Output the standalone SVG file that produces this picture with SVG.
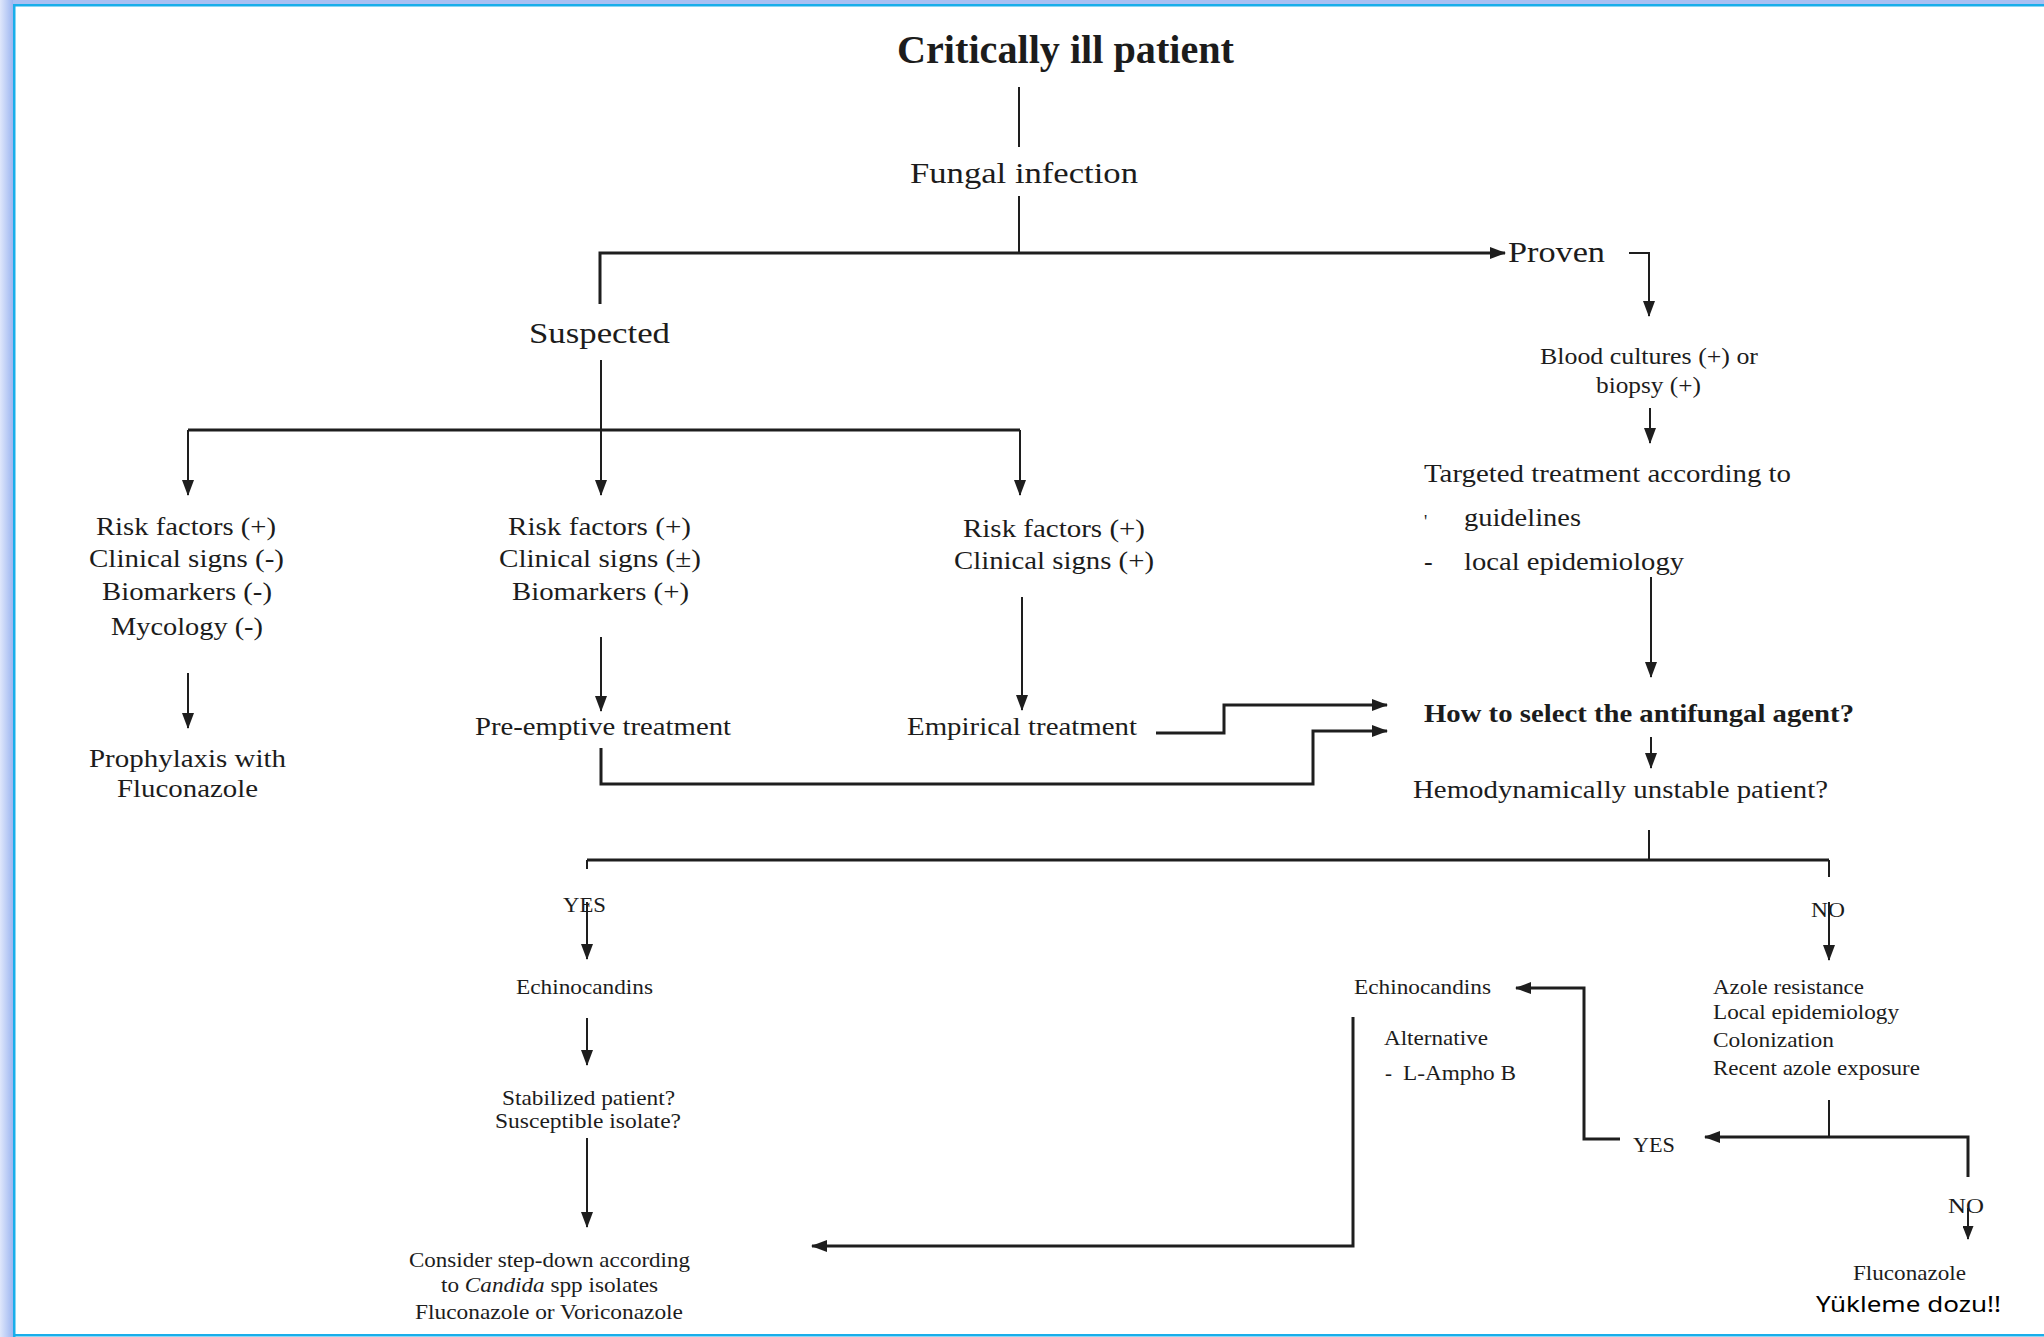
<svg xmlns="http://www.w3.org/2000/svg" width="2044" height="1337" viewBox="0 0 2044 1337">
  <defs>
    <linearGradient id="sideBand" x1="0" y1="0" x2="1" y2="0">
      <stop offset="0" stop-color="#dfe7fb"/>
      <stop offset="1" stop-color="#9db6f1"/>
    </linearGradient>
    <marker id="ah" viewBox="0 0 16 12" refX="15" refY="6" markerWidth="16" markerHeight="12" markerUnits="userSpaceOnUse" orient="auto">
      <path d="M0,0 L16,6 L0,12 z" fill="#1e1e1e"/>
    </marker>
    <marker id="ahs" viewBox="0 0 14 11" refX="13" refY="5.5" markerWidth="14" markerHeight="11" markerUnits="userSpaceOnUse" orient="auto">
      <path d="M0,0 L14,5.5 L0,11 z" fill="#1e1e1e"/>
    </marker>
    <style>
      .t { font-family: "Liberation Serif", "Times New Roman", serif; fill: #1c1c1c; }
      .b { font-weight: bold; }
      .f30 { font-size: 30px; }
      .f26 { font-size: 26px; }
      .f24 { font-size: 24px; }
      .f21 { font-size: 21px; }
      .ln { fill: none; stroke: #1e1e1e; stroke-width: 2; }
      .thk { stroke-width: 3; }
      .arr { marker-end: url(#ah); }
      .arrs { marker-end: url(#ahs); }
      .note { font-family: "Noto Sans", "Open Sans", "Liberation Sans", sans-serif; font-size: 22px; fill: #000; }
    </style>
  </defs>

  <!-- page background and frame -->
  <rect x="0" y="0" width="2044" height="1337" fill="#ffffff"/>
  <rect x="0" y="0" width="2044" height="5" fill="#a9c0f3"/>
  <rect x="0" y="0" width="13" height="1337" fill="url(#sideBand)"/>
  <rect x="13" y="4" width="2031" height="2.5" fill="#19aeea"/>
  <rect x="13" y="4" width="2.5" height="1333" fill="#19aeea"/>
  <rect x="13" y="1334" width="2031" height="2.5" fill="#19aeea"/>

  <!-- connectors -->
  <g id="connectors">
    <path class="ln" d="M1019,87 V147"/>
    <path class="ln" d="M1019,196 V253"/>
    <path class="ln thk arr" d="M600,304 V253 H1505"/>
    <path class="ln" d="M601,360 V430"/>
    <path class="ln thk" d="M188,430 H1020"/>
    <path class="ln arr" d="M188,430 V495"/>
    <path class="ln arr" d="M601,430 V495"/>
    <path class="ln arr" d="M1020,430 V495"/>
    <path class="ln arr" d="M1629,253 H1649 V316"/>
    <path class="ln arr" d="M1650,408 V443"/>
    <path class="ln arr" d="M188,673 V728"/>
    <path class="ln arr" d="M601,637 V711"/>
    <path class="ln arr" d="M1022,597 V710"/>
    <path class="ln thk arr" d="M1156,733 H1224 V705 H1387"/>
    <path class="ln thk arr" d="M601,748 V784 H1313 V731 H1387"/>
    <path class="ln arr" d="M1651,577 V677"/>
    <path class="ln arr" d="M1651,737 V768"/>
    <path class="ln" d="M1649,830 V860"/>
    <path class="ln thk" d="M587,860 H1829"/>
    <path class="ln" d="M587,860 V869"/>
    <path class="ln" d="M1829,860 V877"/>
    <path class="ln arr" d="M587,902 V959"/>
    <path class="ln arr" d="M1829,902 V960"/>
    <path class="ln arr" d="M587,1018 V1065"/>
    <path class="ln arr" d="M587,1138 V1227"/>
    <path class="ln thk arr" d="M1353,1017 V1246 H812"/>
    <path class="ln" d="M1829,1100 V1137"/>
    <path class="ln thk arr" d="M1968,1177 V1137 H1705"/>
    <path class="ln thk arr" d="M1620,1139 H1584 V988 H1516"/>
    <path class="ln arrs" d="M1968,1208 V1239"/>
  </g>

  <g id="critically-ill">
    <text class="t b" x="897" y="63" font-size="40" textLength="337" lengthAdjust="spacingAndGlyphs">Critically ill patient</text>
  </g>
  <g id="fungal-infection">
    <text class="t f30" x="910" y="183" textLength="228" lengthAdjust="spacingAndGlyphs">Fungal infection</text>
  </g>
  <g id="proven">
    <text class="t f30" x="1508" y="262" textLength="97" lengthAdjust="spacingAndGlyphs">Proven</text>
  </g>
  <g id="suspected">
    <text class="t f30" x="529" y="343" textLength="141" lengthAdjust="spacingAndGlyphs">Suspected</text>
  </g>

  <g id="prophylaxis-criteria">
    <text class="t f26" x="96" y="535" textLength="180" lengthAdjust="spacingAndGlyphs">Risk factors (+)</text>
    <text class="t f26" x="89" y="567" textLength="195" lengthAdjust="spacingAndGlyphs">Clinical signs (-)</text>
    <text class="t f26" x="102" y="600" textLength="170" lengthAdjust="spacingAndGlyphs">Biomarkers (-)</text>
    <text class="t f26" x="111" y="635" textLength="152" lengthAdjust="spacingAndGlyphs">Mycology (-)</text>
  </g>
  <g id="prophylaxis">
    <text class="t f26" x="89" y="767" textLength="197" lengthAdjust="spacingAndGlyphs">Prophylaxis with</text>
    <text class="t f26" x="117" y="797" textLength="141" lengthAdjust="spacingAndGlyphs">Fluconazole</text>
  </g>

  <g id="preemptive-criteria">
    <text class="t f26" x="508" y="535" textLength="183" lengthAdjust="spacingAndGlyphs">Risk factors (+)</text>
    <text class="t f26" x="499" y="567" textLength="202" lengthAdjust="spacingAndGlyphs">Clinical signs (±)</text>
    <text class="t f26" x="512" y="600" textLength="177" lengthAdjust="spacingAndGlyphs">Biomarkers (+)</text>
  </g>
  <g id="preemptive">
    <text class="t f26" x="475" y="735" textLength="256" lengthAdjust="spacingAndGlyphs">Pre-emptive treatment</text>
  </g>

  <g id="empirical-criteria">
    <text class="t f26" x="963" y="537" textLength="182" lengthAdjust="spacingAndGlyphs">Risk factors (+)</text>
    <text class="t f26" x="954" y="569" textLength="200" lengthAdjust="spacingAndGlyphs">Clinical signs (+)</text>
  </g>
  <g id="empirical">
    <text class="t f26" x="907" y="735" textLength="230" lengthAdjust="spacingAndGlyphs">Empirical treatment</text>
  </g>

  <g id="blood-cultures">
    <text class="t f24" x="1540" y="364" textLength="218" lengthAdjust="spacingAndGlyphs">Blood cultures (+) or</text>
    <text class="t f24" x="1596" y="393" textLength="105" lengthAdjust="spacingAndGlyphs">biopsy (+)</text>
  </g>
  <g id="targeted">
    <text class="t f26" x="1424" y="482" textLength="367" lengthAdjust="spacingAndGlyphs">Targeted treatment according to</text>
    <text class="t" x="1424" y="528" font-size="18">'</text>
    <text class="t f26" x="1464" y="526" textLength="117" lengthAdjust="spacingAndGlyphs">guidelines</text>
    <text class="t f26" x="1424" y="570">-</text>
    <text class="t f26" x="1464" y="570" textLength="220" lengthAdjust="spacingAndGlyphs">local epidemiology</text>
  </g>
  <g id="select-agent">
    <text class="t f26 b" x="1424" y="722" textLength="430" lengthAdjust="spacingAndGlyphs">How to select the antifungal agent?</text>
  </g>
  <g id="hemodynamics">
    <text class="t f26" x="1413" y="798" textLength="415" lengthAdjust="spacingAndGlyphs">Hemodynamically unstable patient?</text>
  </g>

  <g id="yes-unstable">
    <text class="t f21" x="563" y="912" textLength="43" lengthAdjust="spacingAndGlyphs">YES</text>
  </g>
  <g id="echinocandins-first">
    <text class="t f21" x="516" y="994" textLength="137" lengthAdjust="spacingAndGlyphs">Echinocandins</text>
  </g>
  <g id="stabilized">
    <text class="t f21" x="502" y="1105" textLength="173" lengthAdjust="spacingAndGlyphs">Stabilized patient?</text>
    <text class="t f21" x="495" y="1128" textLength="186" lengthAdjust="spacingAndGlyphs">Susceptible isolate?</text>
  </g>
  <g id="step-down">
    <text class="t f21" x="409" y="1267" textLength="281" lengthAdjust="spacingAndGlyphs">Consider step-down according</text>
    <text class="t f21" x="441" y="1292" textLength="217" lengthAdjust="spacingAndGlyphs">to <tspan font-style="italic">Candida</tspan> spp isolates</text>
    <text class="t f21" x="415" y="1319" textLength="268" lengthAdjust="spacingAndGlyphs">Fluconazole or Voriconazole</text>
  </g>

  <g id="no-stable">
    <text class="t f21" x="1811" y="917" textLength="34" lengthAdjust="spacingAndGlyphs">NO</text>
  </g>
  <g id="azole-factors">
    <text class="t f21" x="1713" y="994" textLength="151" lengthAdjust="spacingAndGlyphs">Azole resistance</text>
    <text class="t f21" x="1713" y="1019" textLength="186" lengthAdjust="spacingAndGlyphs">Local epidemiology</text>
    <text class="t f21" x="1713" y="1047" textLength="121" lengthAdjust="spacingAndGlyphs">Colonization</text>
    <text class="t f21" x="1713" y="1075" textLength="207" lengthAdjust="spacingAndGlyphs">Recent azole exposure</text>
  </g>
  <g id="echinocandins-second">
    <text class="t f21" x="1354" y="994" textLength="137" lengthAdjust="spacingAndGlyphs">Echinocandins</text>
    <text class="t f21" x="1384" y="1045" textLength="104" lengthAdjust="spacingAndGlyphs">Alternative</text>
    <text class="t f21" x="1385" y="1080">-</text>
    <text class="t f21" x="1403" y="1080" textLength="113" lengthAdjust="spacingAndGlyphs">L-Ampho B</text>
  </g>
  <g id="yes-azole">
    <text class="t f21" x="1633" y="1152" textLength="42" lengthAdjust="spacingAndGlyphs">YES</text>
  </g>
  <g id="no-azole">
    <text class="t f21" x="1948" y="1213" textLength="36" lengthAdjust="spacingAndGlyphs">NO</text>
  </g>
  <g id="fluconazole">
    <text class="t f21" x="1853" y="1280" textLength="113" lengthAdjust="spacingAndGlyphs">Fluconazole</text>
    <text class="note" x="1816" y="1312" textLength="185" lengthAdjust="spacingAndGlyphs">Yükleme dozu!!</text>
  </g>
</svg>
